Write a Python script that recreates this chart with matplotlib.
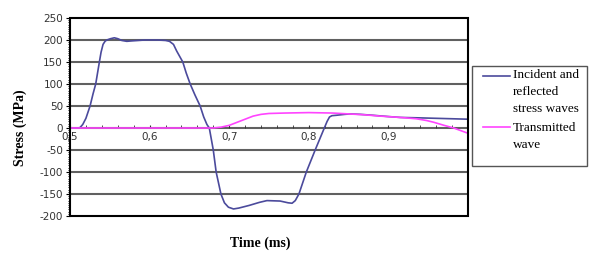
import numpy as np
import matplotlib
matplotlib.use('Agg')
import matplotlib.pyplot as plt
from matplotlib.patches import Rectangle
from matplotlib.lines import Line2D
from matplotlib.ticker import MultipleLocator

# incident and reflected stress waves
t_inc = [0.500, 0.510, 0.5126, 0.516, 0.520, 0.5252, 0.529, 0.5323, 0.5369, 0.539,
         0.5415, 0.544, 0.5462, 0.551, 0.5557, 0.560, 0.565, 0.5713, 0.578, 0.594,
         0.610, 0.620, 0.625, 0.630, 0.634, 0.6417, 0.646, 0.651, 0.657, 0.6635,
         0.668, 0.672, 0.675, 0.680, 0.6836, 0.6896, 0.694, 0.699, 0.7054, 0.712,
         0.725, 0.738, 0.7474, 0.764, 0.774, 0.779, 0.783, 0.7876, 0.7969, 0.808,
         0.8195, 0.823, 0.826, 0.829, 0.835, 0.845, 0.852, 0.865, 0.880, 0.900,
         0.915, 0.940, 0.960, 0.980, 1.000]
s_inc = [0, 0, 1, 8, 22, 50, 78, 100, 150, 172,
         190, 197, 200, 203, 205, 203, 199, 197, 198, 200,
         200, 199, 197, 190, 175, 150, 125, 100, 75, 50,
         25, 8, 0, -50, -100, -150, -170, -180, -184, -182,
         -176, -169, -165, -166, -170, -171, -165, -150, -100, -50,
         0, 15, 25, 28, 29, 31, 32, 31, 29, 26,
         24, 23, 22, 21, 20]

# transmitted wave
t_tr = [0.500, 0.600, 0.680, 0.690, 0.700, 0.710, 0.720, 0.730, 0.740, 0.750,
        0.770, 0.800, 0.830, 0.850, 0.870, 0.890, 0.915, 0.935, 0.948, 0.957,
        0.970, 0.982, 0.991, 1.000]
s_tr = [0, 0, 0, 2, 6, 13, 20, 27, 31, 33,
        34, 35, 34, 32, 30, 27, 24, 21, 17, 13,
        6, 0, -6, -12]

xticks = [0.5, 0.6, 0.7, 0.8, 0.9]
xticklabels = ['0,5', '0,6', '0,7', '0,8', '0,9']
yticks = [-200, -150, -100, -50, 0, 50, 100, 150, 200, 250]
legend_labels = ['Incident and\nreflected\nstress waves', 'Transmitted\nwave']

blue = '#4b4a9c'
magenta = '#ff44ff'
W, H = 600, 264

fig = plt.figure(figsize=(6, 2.64), dpi=100)
ax = fig.add_axes([70/W, 1-216/H, 398/W, 198/H])

ax.plot(t_inc, s_inc, color=blue, lw=1.2)
ax.plot(t_tr, s_tr, color=magenta, lw=1.2)
ax.set_xlim(0.5, 1.0)
ax.set_ylim(-200, 250)

for y in yticks[1:-1]:
    ax.axhline(y, color='#606060', lw=1.5, zorder=0)

# x axis sits on the zero line
ax.spines['bottom'].set_position(('data', 0))
ax.spines['bottom'].set_visible(False)
for s in ['top', 'right', 'left']:
    ax.spines[s].set_visible(False)
ax.add_patch(Rectangle((0, 0), 1, 1, transform=ax.transAxes, fill=False,
                       edgecolor='black', lw=1.5, clip_on=False, zorder=5))

ax.set_xticks(xticks)
ax.set_xticklabels(xticklabels, fontsize=7.5, color='#333333')
ax.xaxis.set_minor_locator(MultipleLocator(0.02))
ax.tick_params(axis='x', which='both', direction='in', length=2, pad=3, color='#333333')
ax.set_yticks(yticks)
ax.set_yticklabels([str(v) for v in yticks], fontsize=7.5, color='#333333')
ax.yaxis.set_minor_locator(MultipleLocator(5))
ax.tick_params(axis='y', which='major', direction='out', length=3, pad=2)
ax.tick_params(axis='y', which='minor', direction='out', length=1.5)

fig.text(20/W, 1-128/H, 'Stress (MPa)', rotation=90, ha='center', va='center',
         family='Liberation Serif', fontweight='bold', fontsize=10)
fig.text(260/W, 1-243/H, 'Time (ms)', ha='center', va='center',
         family='Liberation Serif', fontweight='bold', fontsize=10)

# legend drawn by hand so the handle sits on the first text line
fig.patches.append(Rectangle((472/W, 1-166/H), 115/W, 100/H, transform=fig.transFigure,
                             fill=False, edgecolor='#555555', lw=1.0))
for label, color, ytop, yl in zip(legend_labels, [blue, magenta], [69, 122], [76, 127]):
    fig.lines.append(Line2D([483/W, 510/W], [1-yl/H, 1-yl/H], color=color, lw=1.2,
                            transform=fig.transFigure))
    fig.text(513/W, 1-ytop/H, label, ha='left', va='top', family='Liberation Serif',
             fontsize=9.5, linespacing=1.55)

fig.savefig('out.png', dpi=100)
